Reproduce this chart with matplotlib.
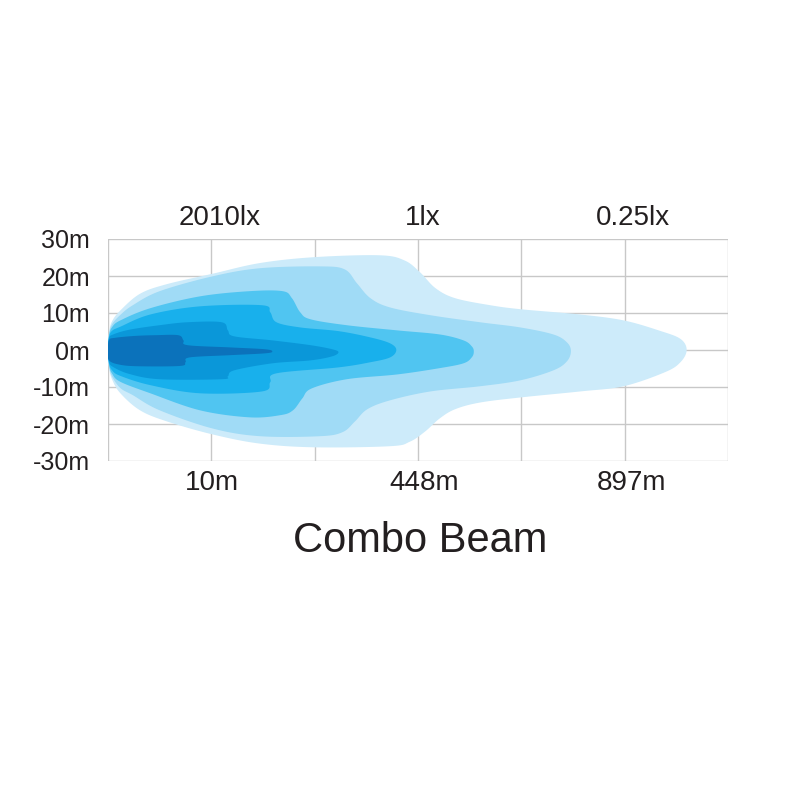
import numpy as np
import matplotlib.pyplot as plt

plt.rcParams['font.family'] = ['Liberation Sans', 'DejaVu Sans']

# beam outlines, x in grid units (0-6), y in metres; outer -> inner
beam1_x = [0, 0.01, 0.04, 0.12, 0.31, 0.57, 1.01, 1.47, 2.00, 2.63, 2.87, 3.02, 3.17, 3.36, 3.70, 4.00, 4.57, 4.99, 5.34, 5.54, 5.60,
           5.54, 5.39, 4.99, 4.57, 4.00, 3.60, 3.36, 3.21, 3.07, 2.92, 2.73, 2.00, 1.47, 1.01, 0.57, 0.31, 0.12, 0.04, 0.01]
beam1_y = [0, 4.8, 7.8, 10.7, 15.2, 17.8, 20.6, 23.5, 25.1, 25.6, 24.2, 21.0, 16.7, 14.0, 12.1, 11.0, 9.6, 8.0, 5.2, 3.0, 0,
           -3.3, -6.0, -9.8, -11.2, -12.8, -14.2, -16.0, -18.5, -22.0, -24.8, -26.0, -26.3, -25.3, -22.8, -19.3, -16.3, -11.7, -8.0, -4.8]

beam2_x = [0, 0.01, 0.04, 0.12, 0.24, 0.50, 1.01, 1.47, 2.05, 2.29, 2.41, 2.54, 2.73, 3.12, 3.60, 3.99, 4.31, 4.44, 4.48,
           4.44, 4.31, 3.99, 3.60, 3.12, 2.73, 2.51, 2.39, 2.27, 2.05, 1.47, 1.01, 0.50, 0.24, 0.12, 0.04, 0.01]
beam2_y = [0, 4.4, 7.0, 9.5, 12.1, 15.9, 19.9, 22.1, 22.6, 21.8, 18.0, 14.0, 11.5, 9.4, 7.5, 6.1, 4.2, 2.1, -0.3,
           -3.1, -5.5, -8.2, -9.8, -11.2, -13.6, -16.0, -19.3, -22.2, -23.3, -23.3, -21.2, -16.3, -12.2, -10.3, -7.2, -4.4]

beam3_x = [0, 0.01, 0.04, 0.12, 0.41, 0.89, 1.37, 1.69, 1.78, 1.86, 1.96, 2.31, 2.80, 3.21, 3.44, 3.52, 3.54,
           3.52, 3.44, 3.21, 2.80, 2.31, 1.97, 1.88, 1.79, 1.67, 1.37, 0.89, 0.41, 0.12, 0.04, 0.01]
beam3_y = [0, 4.0, 6.2, 8.0, 11.3, 14.5, 15.9, 15.9, 14.0, 10.2, 8.3, 6.7, 5.3, 4.2, 2.6, 1.0, -0.4,
           -2.0, -3.6, -4.9, -6.6, -7.9, -10.4, -13.1, -16.3, -17.6, -18.2, -16.3, -11.7, -8.6, -6.4, -4.0]

beam4_x = [0, 0.01, 0.04, 0.12, 0.41, 0.89, 1.49, 1.57, 1.63, 1.86, 2.23, 2.54, 2.73, 2.79,
           2.73, 2.54, 2.23, 1.63, 1.57, 1.49, 0.89, 0.41, 0.12, 0.04, 0.01]
beam4_y = [0, 3.6, 5.2, 6.3, 9.6, 11.8, 12.1, 10.2, 7.5, 6.1, 5.1, 3.4, 1.8, 0,
           -2.0, -3.3, -4.7, -6.3, -8.7, -11.2, -11.7, -9.5, -7.0, -5.5, -3.6]

beam5_x = [0, 0.01, 0.05, 0.21, 0.50, 0.77, 1.10, 1.16, 1.22, 1.59, 1.96, 2.17, 2.23,
           2.17, 1.96, 1.59, 1.22, 1.16, 1.10, 0.50, 0.21, 0.05, 0.01]
beam5_y = [0, 3.2, 4.2, 5.5, 6.7, 7.5, 7.5, 5.3, 3.7, 2.6, 1.3, 0.2, -0.6,
           -1.7, -2.8, -3.6, -5.5, -7.1, -7.9, -7.9, -6.5, -4.6, -3.2]

beam6_x = [0, 0.01, 0.07, 0.26, 0.46, 0.68, 0.73, 0.77, 1.18, 1.52, 1.59,
           1.52, 1.18, 0.79, 0.75, 0.70, 0.31, 0.12, 0.01]
beam6_y = [0, 2.7, 3.3, 3.8, 4.0, 4.0, 2.6, 1.3, 0.7, 0.2, -0.4,
           -0.9, -1.4, -2.0, -3.3, -4.3, -4.4, -4.0, -2.8]

beams = [(beam1_x, beam1_y), (beam2_x, beam2_y), (beam3_x, beam3_y),
         (beam4_x, beam4_y), (beam5_x, beam5_y), (beam6_x, beam6_y)]
colors = ['#cdebfa', '#a0dbf6', '#50c5f1', '#18b0ec', '#0a97d9', '#0b72bb']

y_ticks = [30, 20, 10, 0, -10, -20, -30]
y_labels = ['30m', '20m', '10m', '0m', '-10m', '-20m', '-30m']
dist_labels = ['10m', '448m', '897m']
lux_labels = ['2010lx', '1lx', '0.25lx']


def smooth(x, y, n=14):
    # closed catmull-rom curve through the outline points
    p = np.column_stack([x, y]).astype(float)
    m = len(p)
    t = np.linspace(0, 1, n, endpoint=False)[:, None]
    out = []
    for i in range(m):
        p0, p1, p2, p3 = p[i - 1], p[i], p[(i + 1) % m], p[(i + 2) % m]
        out.append(0.5 * (2 * p1 + (-p0 + p2) * t + (2 * p0 - 5 * p1 + 4 * p2 - p3) * t ** 2
                          + (-p0 + 3 * p1 - 3 * p2 + p3) * t ** 3))
    return np.vstack(out)


fig = plt.figure(figsize=(8.01, 7.98), dpi=100)
ax = fig.add_axes([108 / 801, 1 - 461 / 798, 620 / 801, 222 / 798])

for (bx, by), c in zip(beams, colors):
    pts = smooth(bx, by)
    ax.fill(pts[:, 0], pts[:, 1], color=c, lw=0, zorder=2)

ax.set_xlim(0, 6)
ax.set_ylim(-30, 30)
ax.set_xticks(range(7))
ax.set_yticks(y_ticks)
ax.set_yticklabels(y_labels, fontsize=18, color='#231f20')
ax.set_xticklabels([])
ax.tick_params(length=0, pad=13)
ax.grid(True, color='#c8c8c8', lw=1)
ax.set_axisbelow(True)
for s in ax.spines.values():
    s.set_visible(False)

for lab, px in zip(dist_labels, [212, 424, 631]):
    fig.text(px / 801, 1 - 483 / 798, lab, fontsize=20, ha='center', va='center', color='#231f20')
for lab, px in zip(lux_labels, [220, 423, 633]):
    fig.text(px / 801, 1 - 218 / 798, lab, fontsize=20, ha='center', va='center', color='#231f20')

fig.text(420 / 801, 1 - 541 / 798, 'Combo Beam', fontsize=30, ha='center', va='center', color='#231f20')

fig.savefig('out.png', dpi=100)
